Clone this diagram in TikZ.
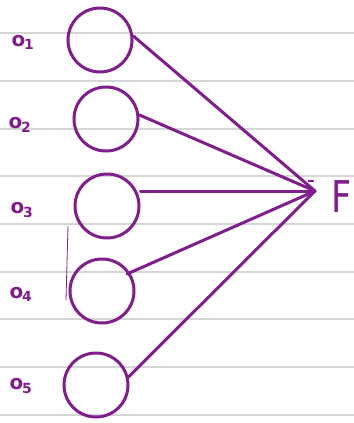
\documentclass[tikz,border=0pt]{standalone}
\usepackage{fontspec}
\setmainfont{DejaVu Sans}
\definecolor{pen}{RGB}{128,30,140}
\definecolor{rule}{RGB}{214,214,214}
\begin{document}
\begin{tikzpicture}[x=1bp,y=-1bp,
  neuron/.style={circle,draw=pen,line width=3bp,minimum size=64bp,inner sep=0pt},
  wire/.style={draw=pen,line width=3bp,line cap=round},
  lab/.style={text=pen,font=\bfseries\fontsize{20}{20}\selectfont,inner sep=0pt}]
\useasboundingbox[fill=white] (0,0) rectangle (354,423);
\foreach \y in {33,81,129,176,224,272,319,367,415}
  \draw[rule,line width=1.3bp] (0,\y) -- (354,\y);
\node[neuron] (c1) at (100,40) {};
\node[neuron] (c2) at (106,119) {};
\node[neuron] (c3) at (107,206) {};
\node[neuron] (c4) at (102,291) {};
\node[neuron] (c5) at (96,385) {};
\coordinate (p) at (315,191);
\draw[wire] (c1.7) -- (p);
\draw[wire] (c2.7) -- (p);
\draw[wire] (c3.east |- p) -- (p);
\draw[wire] (127,274) -- (p);
\draw[wire] (c5.14) -- (p);
\draw[pen,line width=1.5bp] (308,181) -- (314,181);
\draw[pen,line width=0.8bp] (68,226) -- (66,300);
\node[text=pen,font=\fontsize{44}{44}\selectfont,inner sep=0pt,xscale=0.8] (F) at (342,197) {F};
\node[lab] (o1) at (23,42) {o\textsubscript{\kern-1pt 1}};
\node[lab] (o2) at (20,125) {o\textsubscript{\kern-1pt 2}};
\node[lab] (o3) at (22,210) {o\textsubscript{\kern-1pt 3}};
\node[lab] (o4) at (21,294) {o\textsubscript{\kern-1pt 4}};
\node[lab] (o5) at (21,386) {o\textsubscript{\kern-1pt 5}};
\end{tikzpicture}
\end{document}
